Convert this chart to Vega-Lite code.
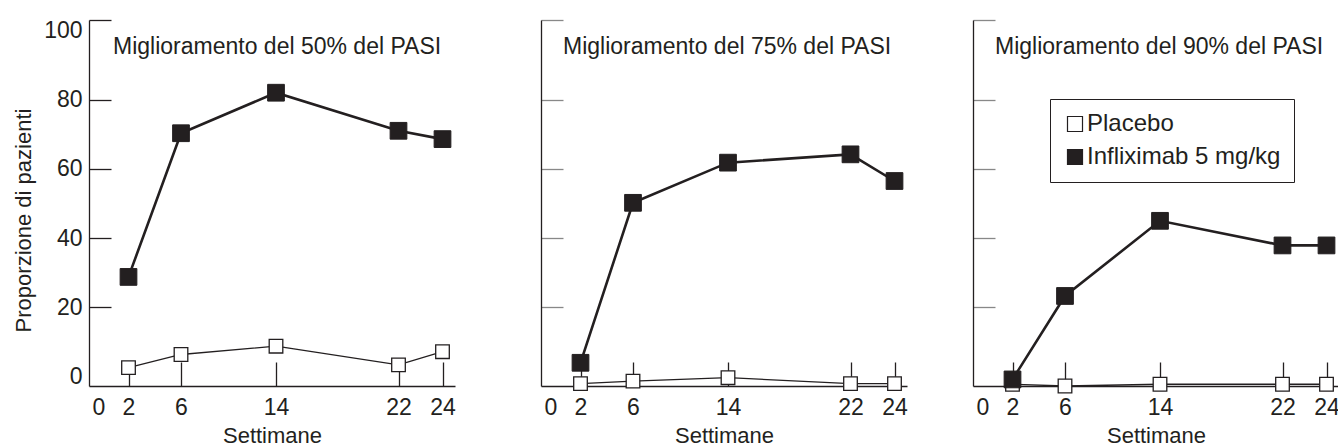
{
  "$schema": "https://vega.github.io/schema/vega-lite/v6.json",
  "padding": {"left": 12, "top": 19, "right": 0, "bottom": 0},
  "autosize": {"type": "pad"},
  "spacing": 0,
  "config": {
    "view": {"stroke": null},
    "font": "Liberation Sans",
    "axis": {
      "domainColor": "#231f20",
      "domainWidth": 1.3,
      "tickWidth": 1.3,
      "grid": false,
      "labelColor": "#231f20",
      "titleColor": "#231f20",
      "labelFont": "Liberation Sans",
      "titleFont": "Liberation Sans",
      "labelFontSize": 23,
      "titleFontSize": 22,
      "titleFontWeight": "normal"
    }
  },
  "datasets": {
    "d": [
      {"panel": "50", "series": "Placebo", "week": 2, "value": 2.6},
      {"panel": "50", "series": "Placebo", "week": 6, "value": 6.4},
      {"panel": "50", "series": "Placebo", "week": 14, "value": 8.8},
      {"panel": "50", "series": "Placebo", "week": 22, "value": 3.4},
      {"panel": "50", "series": "Placebo", "week": 24, "value": 7.2},
      {"panel": "50", "series": "Infliximab 5 mg/kg", "week": 2, "value": 28.8},
      {"panel": "50", "series": "Infliximab 5 mg/kg", "week": 6, "value": 70.3},
      {"panel": "50", "series": "Infliximab 5 mg/kg", "week": 14, "value": 82.0},
      {"panel": "50", "series": "Infliximab 5 mg/kg", "week": 22, "value": 71.0},
      {"panel": "50", "series": "Infliximab 5 mg/kg", "week": 24, "value": 68.6},
      {"panel": "75", "series": "Placebo", "week": 2, "value": -2.0},
      {"panel": "75", "series": "Placebo", "week": 6, "value": -1.3},
      {"panel": "75", "series": "Placebo", "week": 14, "value": -0.3},
      {"panel": "75", "series": "Placebo", "week": 22, "value": -2.0},
      {"panel": "75", "series": "Placebo", "week": 24, "value": -2.0},
      {"panel": "75", "series": "Infliximab 5 mg/kg", "week": 2, "value": 4.0},
      {"panel": "75", "series": "Infliximab 5 mg/kg", "week": 6, "value": 50.2},
      {"panel": "75", "series": "Infliximab 5 mg/kg", "week": 14, "value": 61.8},
      {"panel": "75", "series": "Infliximab 5 mg/kg", "week": 22, "value": 64.2},
      {"panel": "75", "series": "Infliximab 5 mg/kg", "week": 24, "value": 56.5},
      {"panel": "90", "series": "Placebo", "week": 2, "value": -2.2},
      {"panel": "90", "series": "Placebo", "week": 6, "value": -2.7},
      {"panel": "90", "series": "Placebo", "week": 14, "value": -2.2},
      {"panel": "90", "series": "Placebo", "week": 22, "value": -2.2},
      {"panel": "90", "series": "Placebo", "week": 24, "value": -2.2},
      {"panel": "90", "series": "Infliximab 5 mg/kg", "week": 2, "value": -0.8},
      {"panel": "90", "series": "Infliximab 5 mg/kg", "week": 6, "value": 23.3},
      {"panel": "90", "series": "Infliximab 5 mg/kg", "week": 14, "value": 45.0},
      {"panel": "90", "series": "Infliximab 5 mg/kg", "week": 22, "value": 37.9},
      {"panel": "90", "series": "Infliximab 5 mg/kg", "week": 24, "value": 37.9}
    ]
  },
  "resolve": {"scale": {"fill": "independent"}, "legend": {"fill": "independent"}},
  "hconcat": [
    {
      "width": 366, "height": 366,
      "data": {"name": "d"},
      "transform": [{"filter": "datum.panel == '50'"}],
      "title": {"text": "Miglioramento del 50% del PASI", "anchor": "start", "frame": "group", "orient": "top", "offset": -40, "dx": 24, "fontSize": 23, "fontWeight": "normal", "font": "Liberation Sans", "color": "#231f20"},
      "encoding": {
        "x": {"field": "week", "type": "quantitative",
          "scale": {"domain": [-0.63, 0, 2, 6, 14, 22, 24, 24.57], "range": [0, 9.5, 39.5, 92, 187, 309.5, 353.5, 366], "nice": false, "zero": false},
          "axis": {"values": [0, 2, 6, 14, 22, 24], "tickSize": -24, "tickColor": {"condition": {"test": "datum.value == 0", "value": "transparent"}, "value": "#231f20"}, "labelPadding": 34, "title": "Settimane", "titlePadding": 6}},
        "y": {"field": "value", "type": "quantitative",
          "scale": {"domain": [-2.7, 103], "nice": false, "zero": false},
          "axis": {"values": [0, 20, 40, 60, 80, 100, 103], "tickSize": -22, "tickColor": {"condition": {"test": "datum.value == 0 || datum.value == 100", "value": "transparent"}, "value": "#231f20"}, "labelExpr": "datum.value > 101 ? '' : datum.label", "labelPadding": 29, "title": "Proporzione di pazienti", "titlePadding": 8, "titleFontSize": 22, "titleY": 200}}
      },
      "layer": [
        {"transform": [{"filter": "datum.series == 'Placebo'"}], "mark": {"type": "line", "stroke": "#231f20", "strokeWidth": 1.3}, "encoding": {}},
        {"transform": [{"filter": "datum.series == 'Placebo'"}], "mark": {"type": "point", "shape": "square", "filled": true, "stroke": "#231f20", "strokeWidth": 1.3, "opacity": 1, "size": 185},
         "encoding": {"fill": {"field": "series", "type": "nominal", "scale": {"domain": ["Placebo", "Infliximab 5 mg/kg"], "range": ["white", "#231f20"]}, "legend": null}}},
        {"transform": [{"filter": "datum.series != 'Placebo'"}], "mark": {"type": "line", "stroke": "#231f20", "strokeWidth": 2.6}, "encoding": {}},
        {"transform": [{"filter": "datum.series != 'Placebo'"}], "mark": {"type": "point", "shape": "square", "filled": true, "stroke": "#231f20", "strokeWidth": 1, "opacity": 1, "size": 280},
         "encoding": {"fill": {"field": "series", "type": "nominal", "scale": {"domain": ["Placebo", "Infliximab 5 mg/kg"], "range": ["white", "#231f20"]}, "legend": null}}}
      ]
    },
    {
      "width": 366, "height": 366,
      "data": {"name": "d"},
      "transform": [{"filter": "datum.panel == '75'"}],
      "title": {"text": "Miglioramento del 75% del PASI", "anchor": "start", "frame": "group", "orient": "top", "offset": -40, "dx": 22, "fontSize": 23, "fontWeight": "normal", "font": "Liberation Sans", "color": "#231f20"},
      "encoding": {
        "x": {"field": "week", "type": "quantitative",
          "scale": {"domain": [-0.63, 0, 2, 6, 14, 22, 24, 24.57], "range": [0, 9.5, 39.5, 92, 187, 309.5, 353.5, 366], "nice": false, "zero": false},
          "axis": {"values": [0, 2, 6, 14, 22, 24], "tickSize": -24, "tickColor": {"condition": {"test": "datum.value == 0", "value": "transparent"}, "value": "#231f20"}, "labelPadding": 34, "title": "Settimane", "titlePadding": 6}},
        "y": {"field": "value", "type": "quantitative",
          "scale": {"domain": [-2.7, 103], "nice": false, "zero": false},
          "axis": {"values": [20, 40, 60, 80, 103], "tickSize": -22, "labels": false, "title": null, "minExtent": 84.6}}
      },
      "layer": [
        {"transform": [{"filter": "datum.series == 'Placebo'"}], "mark": {"type": "line", "stroke": "#231f20", "strokeWidth": 1.3}, "encoding": {}},
        {"transform": [{"filter": "datum.series == 'Placebo'"}], "mark": {"type": "point", "shape": "square", "filled": true, "stroke": "#231f20", "strokeWidth": 1.3, "opacity": 1, "size": 185},
         "encoding": {"fill": {"field": "series", "type": "nominal", "scale": {"domain": ["Placebo", "Infliximab 5 mg/kg"], "range": ["white", "#231f20"]}, "legend": null}}},
        {"transform": [{"filter": "datum.series != 'Placebo'"}], "mark": {"type": "line", "stroke": "#231f20", "strokeWidth": 2.6}, "encoding": {}},
        {"transform": [{"filter": "datum.series != 'Placebo'"}], "mark": {"type": "point", "shape": "square", "filled": true, "stroke": "#231f20", "strokeWidth": 1, "opacity": 1, "size": 280},
         "encoding": {"fill": {"field": "series", "type": "nominal", "scale": {"domain": ["Placebo", "Infliximab 5 mg/kg"], "range": ["white", "#231f20"]}, "legend": null}}}
      ]
    },
    {
      "width": 366, "height": 366,
      "data": {"name": "d"},
      "transform": [{"filter": "datum.panel == '90'"}],
      "title": {"text": "Miglioramento del 90% del PASI", "anchor": "start", "frame": "group", "orient": "top", "offset": -40, "dx": 22, "fontSize": 23, "fontWeight": "normal", "font": "Liberation Sans", "color": "#231f20"},
      "encoding": {
        "x": {"field": "week", "type": "quantitative",
          "scale": {"domain": [-0.63, 0, 2, 6, 14, 22, 24, 24.57], "range": [0, 9.5, 39.5, 92, 187, 309.5, 353.5, 366], "nice": false, "zero": false},
          "axis": {"values": [0, 2, 6, 14, 22, 24], "tickSize": -24, "tickColor": {"condition": {"test": "datum.value == 0", "value": "transparent"}, "value": "#231f20"}, "labelPadding": 34, "title": "Settimane", "titlePadding": 6}},
        "y": {"field": "value", "type": "quantitative",
          "scale": {"domain": [-2.7, 103], "nice": false, "zero": false},
          "axis": {"values": [20, 40, 60, 80, 103], "tickSize": -22, "labels": false, "title": null, "minExtent": 65}}
      },
      "layer": [
        {"transform": [{"filter": "datum.series == 'Placebo'"}], "mark": {"type": "line", "stroke": "#231f20", "strokeWidth": 1.3}, "encoding": {}},
        {"transform": [{"filter": "datum.series == 'Placebo'"}], "mark": {"type": "point", "shape": "square", "filled": true, "stroke": "#231f20", "strokeWidth": 1.3, "opacity": 1, "size": 185},
         "encoding": {"fill": {"field": "series", "type": "nominal", "scale": {"domain": ["Placebo", "Infliximab 5 mg/kg"], "range": ["white", "#231f20"]},
            "legend": {"title": null, "orient": "none", "legendX": 77, "legendY": 79, "strokeColor": "#231f20", "padding": 13, "symbolType": "square", "symbolSize": 225, "symbolStrokeColor": "#231f20", "symbolStrokeWidth": 1.2, "labelFontSize": 24, "labelFont": "Liberation Sans", "labelColor": "#231f20", "labelOffset": 0, "rowPadding": 9, "labelLimit": 400}}}},
        {"transform": [{"filter": "datum.series != 'Placebo'"}], "mark": {"type": "line", "stroke": "#231f20", "strokeWidth": 2.6}, "encoding": {}},
        {"transform": [{"filter": "datum.series != 'Placebo'"}], "mark": {"type": "point", "shape": "square", "filled": true, "stroke": "#231f20", "strokeWidth": 1, "opacity": 1, "size": 280},
         "encoding": {"fill": {"field": "series", "type": "nominal", "scale": {"domain": ["Placebo", "Infliximab 5 mg/kg"], "range": ["white", "#231f20"]}}}}
      ]
    }
  ]
}
